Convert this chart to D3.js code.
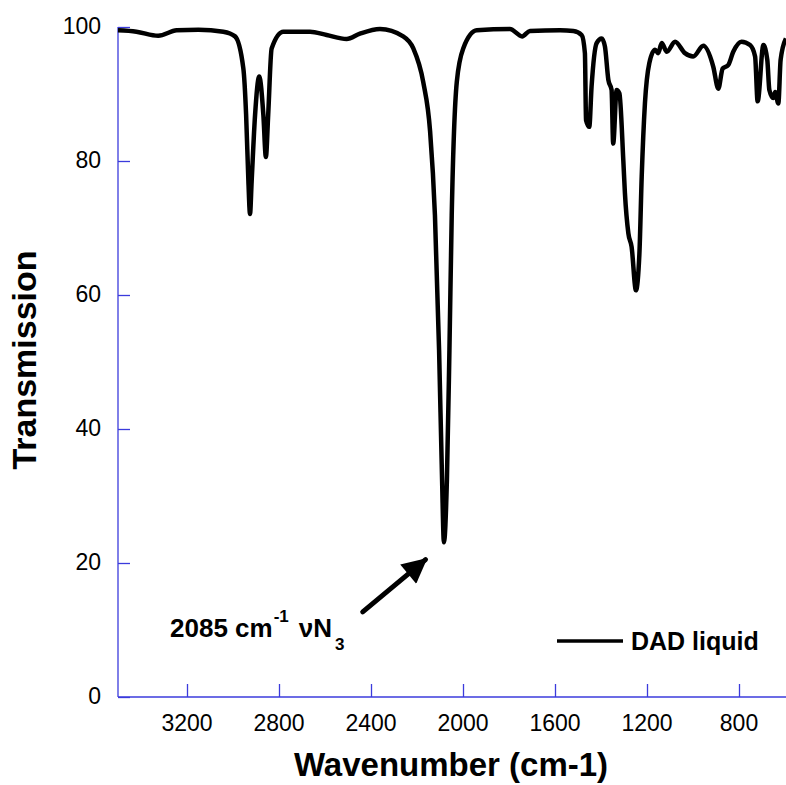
<!DOCTYPE html>
<html>
<head>
<meta charset="utf-8">
<script src="https://cdn.jsdelivr.net/npm/d3@7"></script>
<style>
  html, body { margin: 0; padding: 0; background: #fff; }
  svg text { font-family: "Liberation Sans", Arial, sans-serif; }
</style>
</head>
<body>
<svg id="chart" width="786" height="785"></svg>
<script>
// IR spectrum, DAD liquid (wavenumber in cm-1, transmission %)
const wavenumbers = [3500, 3420, 3325, 3245, 3150, 3042, 2991, 2955, 2943, 2933, 2926, 2919, 2904, 2886,
  2868, 2857, 2847, 2832, 2781, 2665, 2593, 2506, 2448, 2361, 2260, 2216, 2173, 2143, 2122, 2104, 2091,
  2083, 2070, 2059, 2049, 2027, 1999, 1940, 1796, 1743, 1709, 1578, 1520, 1484, 1470, 1465, 1451, 1441,
  1419, 1397, 1383, 1368, 1354, 1347, 1332, 1320, 1303, 1296, 1281, 1267, 1248, 1233, 1223, 1209, 1190,
  1165, 1151, 1136, 1114, 1078, 1035, 999, 955, 912, 890, 871, 847, 825, 789, 752, 730, 719, 694, 677,
  668, 651, 643, 629, 619, 596];
const transmission = [99.5, 99.3, 98.7, 99.5, 99.6, 99.3, 98.6, 93.8, 86.9, 76.9, 72.1, 76.9, 86.9, 92.6,
  86.9, 80.6, 86.9, 96.8, 99.3, 99.3, 98.8, 98.2, 99.0, 99.7, 98.6, 96.8, 91.8, 84.4, 71.9, 51.8, 32.4,
  23.1, 32.4, 51.8, 71.9, 91.8, 96.8, 99.5, 99.7, 98.6, 99.4, 99.5, 99.4, 98.8, 96.1, 86.1, 85.1, 91.1,
  97.6, 98.3, 97.1, 92.1, 90.6, 82.6, 90.6, 90.1, 80.1, 75.2, 69.2, 67.2, 60.7, 66.2, 77.7, 88.6, 94.6,
  96.6, 96.1, 97.6, 96.3, 97.8, 96.1, 95.6, 97.2, 94.1, 90.8, 93.8, 94.3, 96.3, 97.8, 97.3, 95.6, 88.9,
  97.3, 95.1, 90.6, 89.4, 90.3, 88.6, 95.1, 98.3];
const xTicks = [3200, 2800, 2400, 2000, 1600, 1200, 800];
const yTicks = [0, 20, 40, 60, 80, 100];

const axisColor = "#3b3bdc";
const svg = d3.select("#chart");

const x = d3.scaleLinear().domain([3500, 600]).range([118, 785]);
const y = d3.scaleLinear().domain([0, 100]).range([697, 27]);

// y axis (ticks pointing into the plot)
const yAxis = svg.append("g").attr("transform", `translate(${x(3500)},0)`)
  .call(d3.axisRight(y).tickValues(yTicks).tickSize(12).tickFormat(""));
yAxis.select(".domain").attr("d", `M0,${y(0)}V${y(100)}`);
yAxis.selectAll("path, line").attr("stroke", axisColor).attr("stroke-width", 1.3);

svg.append("g").selectAll("text").data(yTicks).join("text")
  .attr("x", 101).attr("y", d => y(d) + 7)
  .attr("text-anchor", "end")
  .attr("font-size", 23)
  .text(d => d);

// x axis
const xAxis = svg.append("g").attr("transform", `translate(0,${y(0)})`)
  .call(d3.axisTop(x).tickValues(xTicks).tickSize(13).tickFormat(""));
xAxis.select(".domain").attr("d", `M${x(3500)},0H786`);
xAxis.selectAll("path, line").attr("stroke", axisColor).attr("stroke-width", 1.3);

svg.append("g").selectAll("text").data(xTicks).join("text")
  .attr("x", d => x(d)).attr("y", 731)
  .attr("text-anchor", "middle")
  .attr("font-size", 23)
  .text(d => d);

// axis titles
svg.append("text")
  .attr("x", 451).attr("y", 776)
  .attr("text-anchor", "middle")
  .attr("font-size", 33).attr("font-weight", "bold")
  .text("Wavenumber (cm-1)");

svg.append("text")
  .attr("transform", "translate(36,360) rotate(-90)")
  .attr("text-anchor", "middle")
  .attr("font-size", 34).attr("font-weight", "bold")
  .text("Transmission");

// spectrum
const pts = wavenumbers.map((w, i) => [w, transmission[i]]);
const line = d3.line().x(d => x(d[0])).y(d => y(d[1])).curve(d3.curveMonotoneX);
svg.append("path")
  .datum(pts)
  .attr("d", line)
  .attr("fill", "none")
  .attr("stroke", "#000")
  .attr("stroke-width", 4.5)
  .attr("stroke-linejoin", "round");

// annotation arrow
const defs = svg.append("defs");
defs.append("marker")
  .attr("id", "head").attr("viewBox", "0 0 10 10")
  .attr("refX", 9).attr("refY", 5)
  .attr("markerWidth", 5.5).attr("markerHeight", 5)
  .attr("orient", "auto")
  .append("path").attr("d", "M0,0L10,5L0,10Z").attr("fill", "#000");

svg.append("line")
  .attr("x1", x(2436)).attr("y1", y(12.7))
  .attr("x2", x(2163)).attr("y2", y(20.5))
  .attr("stroke", "#000").attr("stroke-width", 5)
  .attr("stroke-linecap", "round")
  .attr("marker-end", "url(#head)");

const note = svg.append("text")
  .attr("x", 170).attr("y", 637)
  .attr("font-size", 26).attr("font-weight", "bold");
note.append("tspan").text("2085 cm");
note.append("tspan").attr("font-size", 17).attr("dy", -15).attr("dx", 1).text("-1");
note.append("tspan").attr("dy", 15).attr("dx", 10).text("\u03bdN");
note.append("tspan").attr("font-size", 17).attr("dy", 13).attr("dx", 3).text("3");

// legend
svg.append("line")
  .attr("x1", 557).attr("x2", 623).attr("y1", 641).attr("y2", 641)
  .attr("stroke", "#000").attr("stroke-width", 3.5);
svg.append("text")
  .attr("x", 631).attr("y", 650)
  .attr("font-size", 25).attr("font-weight", "bold")
  .text("DAD liquid");
</script>
</body>
</html>
